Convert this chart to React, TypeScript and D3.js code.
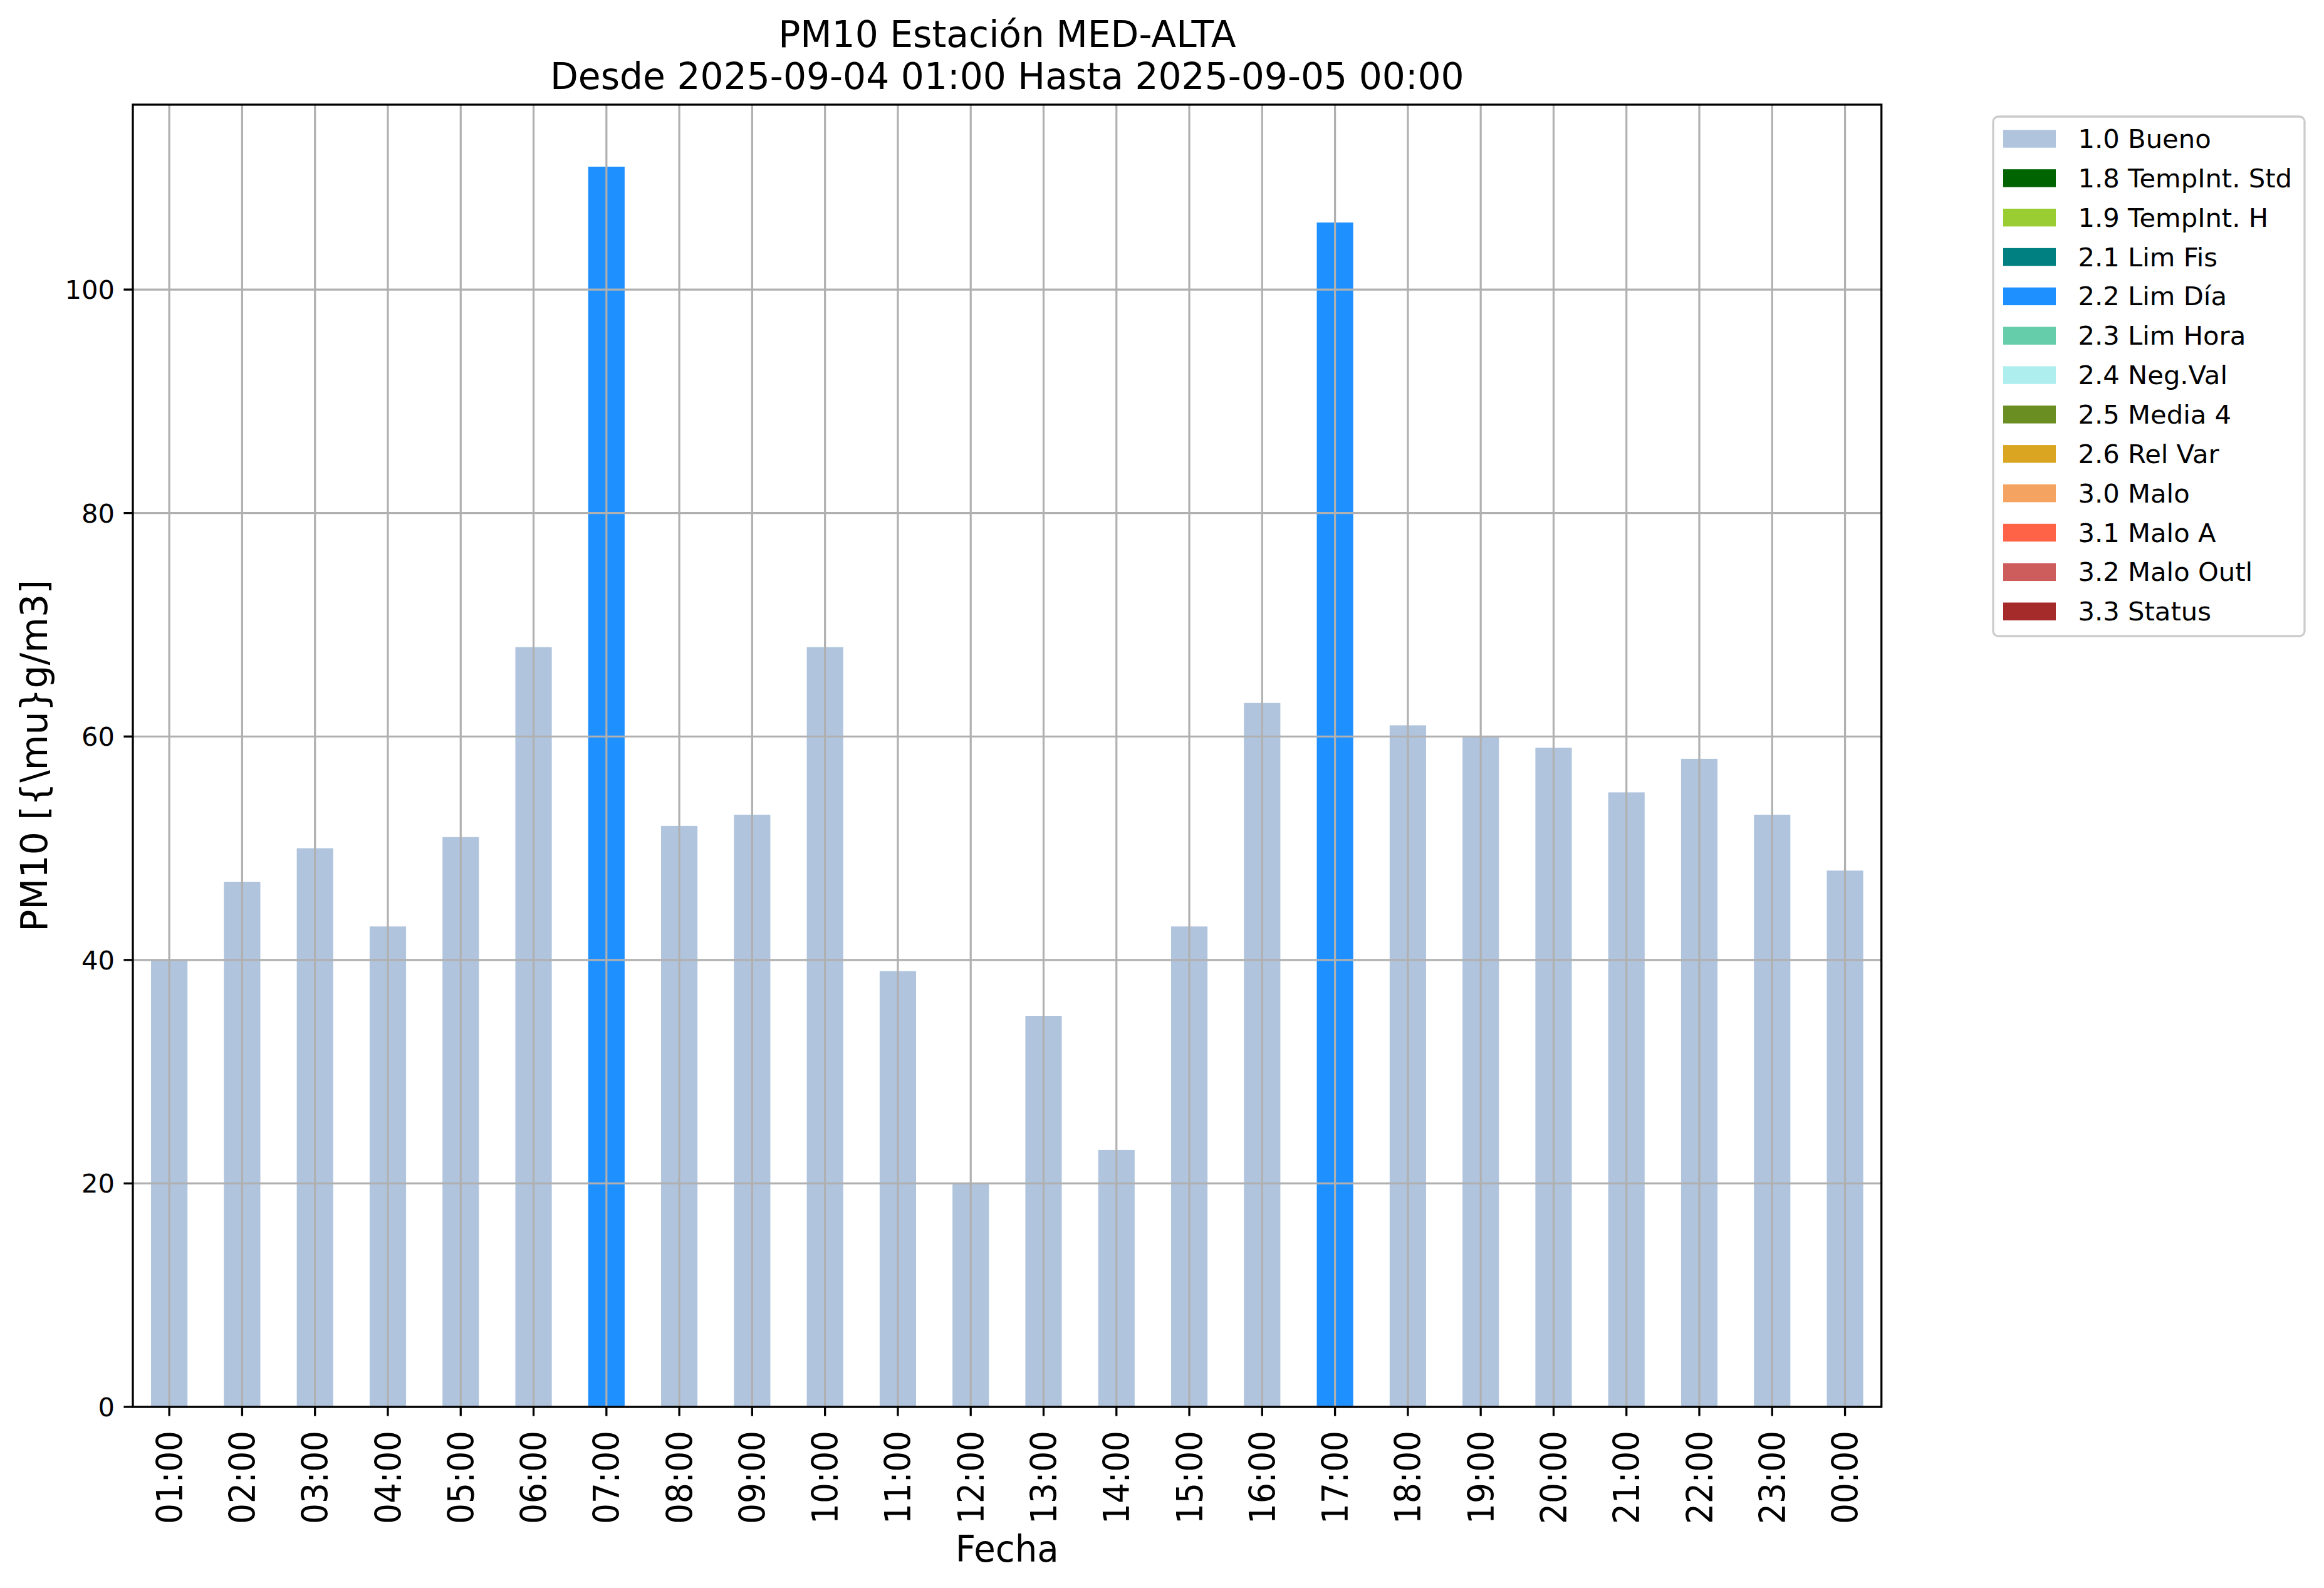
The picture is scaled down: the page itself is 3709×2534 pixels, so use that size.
import React from "react";
import * as d3 from "d3";

const hours = ["01:00","02:00","03:00","04:00","05:00","06:00","07:00","08:00","09:00","10:00","11:00","12:00","13:00","14:00","15:00","16:00","17:00","18:00","19:00","20:00","21:00","22:00","23:00","00:00"];
const values = [40,47,50,43,51,68,111,52,53,68,39,20,35,23,43,63,106,61,60,59,55,58,53,48];
const flags = ["1.0","1.0","1.0","1.0","1.0","1.0","2.2","1.0","1.0","1.0","1.0","1.0","1.0","1.0","1.0","1.0","2.2","1.0","1.0","1.0","1.0","1.0","1.0","1.0"];
const legendCodes = ["1.0","1.8","1.9","2.1","2.2","2.3","2.4","2.5","2.6","3.0","3.1","3.2","3.3"];
const legendLabels = ["1.0 Bueno","1.8 TempInt. Std","1.9 TempInt. H","2.1 Lim Fis","2.2 Lim Día","2.3 Lim Hora","2.4 Neg.Val","2.5 Media 4","2.6 Rel Var","3.0 Malo","3.1 Malo A","3.2 Malo Outl","3.3 Status"];
const legendColors = ["#B0C4DE","#006400","#9ACD32","#008080","#1E90FF","#66CDAA","#AFEEEE","#6B8E23","#DAA520","#F4A460","#FF6347","#CD5C5C","#A52A2A"];
const yTicks = [0,20,40,60,80,100];

const W = 3709, H = 2534;
const L = 212, R = 3002.7, T = 167, B = 2245;
const FONT = "DejaVu Sans";

export default function App() {
  const x = d3.scaleBand<string>().domain(hours).range([L, R]).paddingInner(0.5).paddingOuter(0.25);
  const yMax = d3.max(values)! * 1.05;
  const y = d3.scaleLinear().domain([0, yMax]).range([B, T]);
  const color = d3.scaleOrdinal<string, string>().domain(legendCodes).range(legendColors);
  const cx = (h: string) => x(h)! + x.bandwidth() / 2;

  const legX = 3181, legY = 186, legW = 497, legH = 829;
  const rowY = (i: number) => 221.5 + i * 62.85;

  return (
    <svg width={W} height={H} style={{ position: "absolute", left: 0, top: 0, background: "#fff" }} fontFamily={FONT}>
      <rect x={0} y={0} width={W} height={H} fill="#fff" />
      {/* bars */}
      {hours.map((h, i) => (
        <rect key={h} x={x(h)} y={y(values[i])} width={x.bandwidth()} height={B - y(values[i])} fill={color(flags[i])} />
      ))}
      {/* grid */}
      {hours.map((h) => (
        <line key={"gx" + h} x1={cx(h)} x2={cx(h)} y1={T} y2={B} stroke="#b0b0b0" strokeWidth={3.2} />
      ))}
      {yTicks.map((t) => (
        <line key={"gy" + t} x1={L} x2={R} y1={y(t)} y2={y(t)} stroke="#b0b0b0" strokeWidth={3.2} />
      ))}
      {/* spines */}
      <rect x={L} y={T} width={R - L} height={B - T} fill="none" stroke="#000" strokeWidth={3.3} />
      {/* y ticks */}
      {yTicks.map((t) => (
        <g key={"yt" + t}>
          <line x1={L - 14.6} x2={L} y1={y(t)} y2={y(t)} stroke="#000" strokeWidth={3.3} />
          <text x={L - 29} y={y(t) + 15} textAnchor="end" fontSize={41.7}>{t}</text>
        </g>
      ))}
      {/* x ticks */}
      {hours.map((h) => (
        <g key={"xt" + h}>
          <line x1={cx(h)} x2={cx(h)} y1={B} y2={B + 14.6} stroke="#000" strokeWidth={3.3} />
          <text transform={`translate(${cx(h)},${B + 38}) rotate(-90)`} textAnchor="end" dy="0.36em" fontSize={57} textLength={149} lengthAdjust="spacingAndGlyphs">{h}</text>
        </g>
      ))}
      {/* axis labels */}
      <text x={(L + R) / 2} y={2491.5} textAnchor="middle" fontSize={58} textLength={165} lengthAdjust="spacingAndGlyphs">Fecha</text>
      <text transform={`translate(75,${(T + B) / 2}) rotate(-90)`} textAnchor="middle" fontSize={58.3}>{"PM10 [{\\mu}g/m3]"}</text>
      {/* title */}
      <text x={(L + R) / 2} y={75} textAnchor="middle" fontSize={58.3}>PM10 Estación MED-ALTA</text>
      <text x={(L + R) / 2} y={141.5} textAnchor="middle" fontSize={58.3}>Desde 2025-09-04 01:00 Hasta 2025-09-05 00:00</text>
      {/* legend */}
      <rect x={legX} y={legY} width={legW} height={legH} rx={8} ry={8} fill="#fff" fillOpacity={0.8} stroke="#cccccc" strokeWidth={3.3} />
      {legendLabels.map((lab, i) => (
        <g key={"lg" + i}>
          <rect x={3197} y={rowY(i) - 14.2} width={84} height={28.4} fill={legendColors[i]} />
          <text x={3316.5} y={rowY(i) + 14.5} fontSize={41.7}>{lab}</text>
        </g>
      ))}
    </svg>
  );
}
